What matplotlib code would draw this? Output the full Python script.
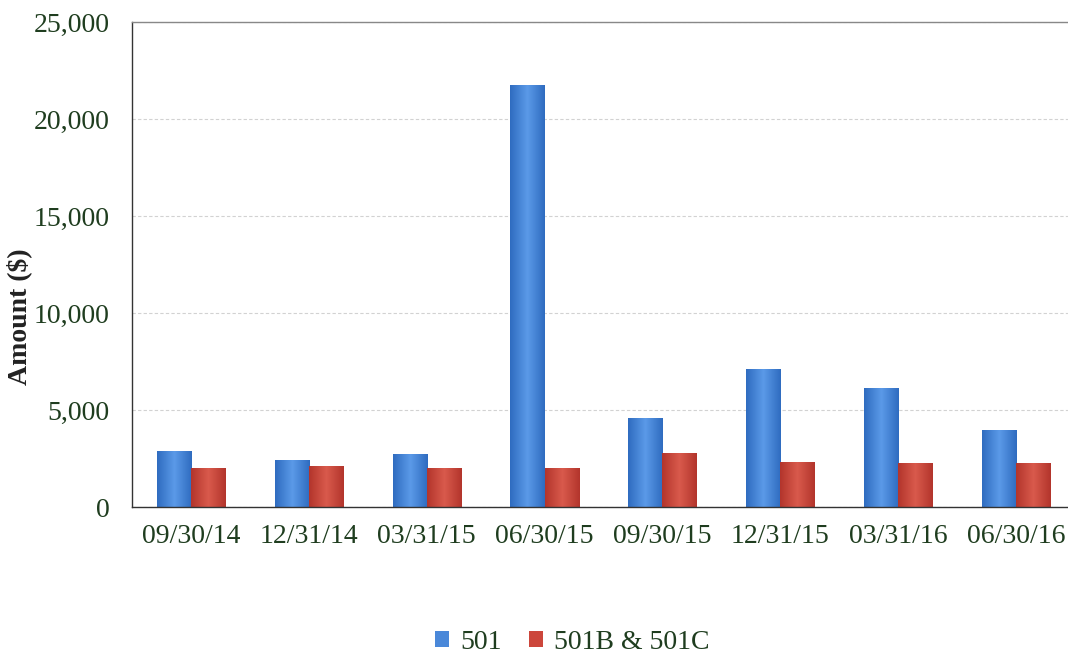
import numpy as np
import matplotlib
matplotlib.use("Agg")
import matplotlib.pyplot as plt
from matplotlib.colors import LinearSegmentedColormap

# quarterly amounts
quarters = ["09/30/14", "12/31/14", "03/31/15", "06/30/15",
            "09/30/15", "12/31/15", "03/31/16", "06/30/16"]
amt_501 = [2900, 2420, 2730, 21750, 4570, 7100, 6120, 3970]
amt_501bc = [2000, 2100, 1990, 2020, 2800, 2300, 2280, 2280]
series_names = ["501", "501B & 501C"]

plt.rcParams['font.family'] = ['Liberation Serif', 'DejaVu Serif']
txt = '#1f3d1f'

fig = plt.figure(figsize=(10.68, 6.6), dpi=100)
ax = fig.add_axes([0.1236, 0.2318, 0.883, 0.735])

x = np.arange(len(quarters))
w = 0.29
b1 = ax.bar(x - w/2, amt_501, w, color='#4a88d9', label=series_names[0], zorder=2)
b2 = ax.bar(x + w/2, amt_501bc, w, color='#cc463b', label=series_names[1], zorder=2)

# fake the shaded look of the original bars
def shade(bars, dark, light):
    cm = LinearSegmentedColormap.from_list('g', [dark, light, dark])
    grad = np.linspace(0, 1, 64).reshape(1, -1)
    for r in bars:
        x0, y0 = r.get_x(), r.get_y()
        im = ax.imshow(grad, cmap=cm, aspect='auto', zorder=2.5,
                       extent=[x0, x0 + r.get_width(), y0, y0 + r.get_height()])
        im.set_clip_path(r)

shade(b1, '#2f6cc0', '#5b9ae8')
shade(b2, '#b3352c', '#d95a4c')

ax.set_xlim(-0.5, 7.5)
ax.set_ylim(0, 25000)
ax.set_yticks(np.arange(0, 25001, 5000))
ax.set_yticklabels([f"{v:,}" for v in range(0, 25001, 5000)])
ax.set_xticks(x)
ax.set_xticklabels(quarters)
ax.tick_params(axis='y', length=0, pad=16, labelsize=20, labelcolor=txt)
ax.tick_params(axis='x', length=0, pad=12, labelsize=20, labelcolor=txt)
ax.grid(axis='y', color='#d2d2d2', linestyle=(0, (3, 2)), linewidth=0.8, zorder=0)
ax.set_axisbelow(True)

for s in ['left', 'bottom', 'top']:
    ax.spines[s].set_color('#333333')
    ax.spines[s].set_linewidth(1.0)
ax.spines['top'].set_color('#888888')
ax.spines['right'].set_visible(False)

fig.text(0.018, 0.52, "Amount ($)", rotation=90, ha='center', va='center',
         fontsize=20, fontweight='bold', color='#222222')

leg = fig.legend(handles=[b1, b2], loc='center', bbox_to_anchor=(0.536, 0.027),
                 ncol=2, frameon=False, fontsize=20, handlelength=0.5, handleheight=0.5,
                 handletextpad=0.4, columnspacing=1.0, borderpad=0.2)
for t in leg.get_texts():
    t.set_color(txt)

fig.savefig("out.png", dpi=100)
